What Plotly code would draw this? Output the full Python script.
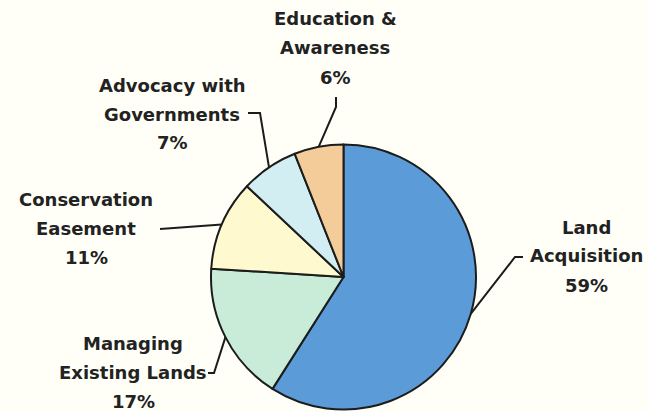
import math
import plotly.graph_objects as go

categories = ["Land Acquisition", "Managing Existing Lands", "Conservation Easement",
              "Advocacy with Governments", "Education & Awareness"]
values = [59, 17, 11, 7, 6]
label_lines = [["Land", "Acquisition", "59%"],
               ["Managing", "Existing Lands", "17%"],
               ["Conservation", "Easement", "11%"],
               ["Advocacy with", "Governments", "7%"],
               ["Education &", "Awareness", "6%"]]
colors = ["#5b9bd8", "#c9ecd9", "#fff9cf", "#d2eef2", "#f4cc99"]

W, H = 648, 412
cx, cy, r = 343.5, 277.0, 132.5

# label placement (pixel centers of first line) and leader start points
label_pos = [(586, 227), (133, 343), (86, 199), (172, 85), (335, 19)]
line_gap = 29
leader_start = [[(523, 257), (515, 257)],
                [(208, 373), (214, 373)],
                [(160, 229)],
                [(248, 113), (260, 113)],
                [(336, 97), (336, 107)]]

def px(x):
    return x / W

def py(y):
    return 1 - y / H

fig = go.Figure(go.Pie(
    labels=categories, values=values, sort=False, direction="clockwise",
    rotation=0, textinfo="none", hoverinfo="label+percent",
    marker=dict(colors=colors, line=dict(color="#1c1c1c", width=2)),
    domain=dict(x=[px(cx - r), px(cx + r)], y=[py(cy + r), py(cy - r)]),
    showlegend=False,
))

total = sum(values)
cum = 0
annotations = []
shapes = []
for i, v in enumerate(values):
    mid = (cum + v / 2) / total
    cum += v
    th = 2 * math.pi * mid
    ex = cx + r * math.sin(th)
    ey = cy - r * math.cos(th)
    pts = leader_start[i] + [(ex, ey)]
    path = "M " + " L ".join(f"{px(x):.5f},{py(y):.5f}" for x, y in pts)
    shapes.append(dict(type="path", xref="paper", yref="paper", path=path,
                       line=dict(color="#1c1c1c", width=2)))
    lx, ly = label_pos[i]
    for k, t in enumerate(label_lines[i]):
        annotations.append(dict(
            x=px(lx), y=py(ly + k * line_gap), xref="paper", yref="paper",
            text=t, showarrow=False, xanchor="center", yanchor="middle",
            font=dict(family="DejaVu Sans", size=18, color="#222222", weight="bold"),
        ))

fig.update_layout(
    width=W, height=H, margin=dict(l=0, r=0, t=0, b=0),
    paper_bgcolor="#fffff8", plot_bgcolor="#fffff8",
    annotations=annotations, shapes=shapes,
)
fig.write_html("out.html", config={"displayModeBar": False},
               post_script="document.body.style.margin='0';document.body.style.background='#fffff8';")
